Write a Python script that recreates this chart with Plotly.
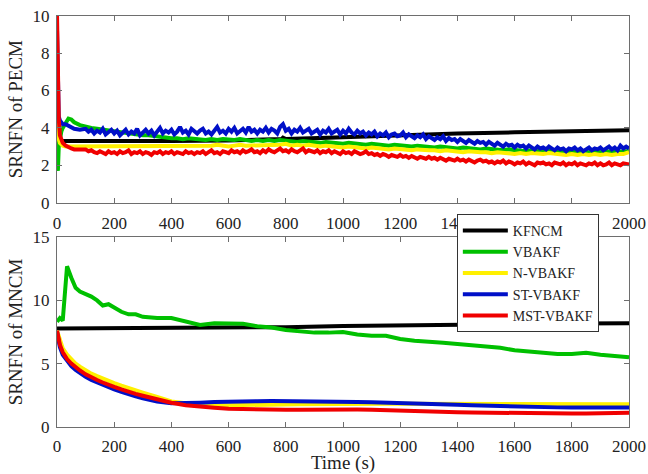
import plotly.graph_objects as go

series_names = ["KFNCM", "VBAKF", "N-VBAKF", "ST-VBAKF", "MST-VBAKF"]
colors = ["#000000", "#00C000", "#FFF000", "#0010C8", "#F00000"]

# ---------- Top panel: SRNFN of PECM ----------
t_early = [0, 3, 6, 10, 15, 20, 30, 40, 50, 60, 80]
t_top20 = t_early + list(range(100, 2001, 20))
t_top10 = t_early + list(range(100, 2001, 10))

kf_top_t = [0, 200, 400, 600, 785, 790, 800, 1000, 1200, 1400, 1600, 1800, 2000]
kf_top = [3.3, 3.28, 3.3, 3.33, 3.4, 3.48, 3.4, 3.5, 3.62, 3.7, 3.76, 3.82, 3.87]

vb_top = [6.5, 1.7, 3.0, 3.5, 3.8, 4.0, 4.3, 4.5, 4.45, 4.3, 4.15,
          4.05, 4.0, 3.95, 3.9, 3.85, 3.8, 3.75, 3.7, 3.7, 3.65,
          3.6, 3.6, 3.55, 3.5, 3.5, 3.45, 3.45, 3.4, 3.45, 3.4,
          3.4, 3.35, 3.4, 3.35, 3.4, 3.35, 3.35, 3.4, 3.35, 3.3,
          3.35, 3.3, 3.35, 3.3, 3.35, 3.3, 3.3, 3.25, 3.3, 3.25,
          3.25, 3.2, 3.25, 3.2, 3.2, 3.15, 3.2, 3.15, 3.15, 3.1,
          3.15, 3.1, 3.1, 3.05, 3.1, 3.05, 3.05, 3.0, 3.05, 3.0,
          3.0, 2.95, 3.0, 2.95, 2.95, 2.9, 2.95, 2.9, 2.9, 2.85,
          2.9, 2.85, 2.85, 2.8, 2.85, 2.8, 2.8, 2.75, 2.8, 2.75,
          2.8, 2.75, 2.75, 2.7, 2.75, 2.7, 2.75, 2.7, 2.7, 2.75,
          2.7, 2.75, 2.7, 2.7, 2.75, 2.75]

nvb_top = [5.0, 3.8, 3.4, 3.2, 3.1, 3.05, 3.0, 3.0, 3.0, 3.0, 3.05,
           3.05, 3.0, 3.05, 3.0, 3.05, 3.0, 3.0, 3.05, 3.0, 3.05,
           3.0, 3.05, 3.0, 3.05, 3.05, 3.0, 3.05, 3.0, 3.05, 3.0,
           3.05, 3.0, 3.05, 3.1, 3.05, 3.0, 3.05, 3.1, 3.05, 3.05,
           3.1, 3.05, 3.1, 3.05, 3.1, 3.15, 3.05, 3.1, 3.05, 3.1,
           3.05, 3.0, 3.05, 3.0, 3.0, 2.95, 3.0, 2.95, 2.95, 2.9,
           2.95, 2.9, 2.9, 2.85, 2.9, 2.85, 2.85, 2.8, 2.85, 2.8,
           2.8, 2.8, 2.75, 2.8, 2.75, 2.75, 2.7, 2.75, 2.7, 2.7,
           2.7, 2.65, 2.7, 2.65, 2.65, 2.6, 2.65, 2.6, 2.65, 2.6,
           2.6, 2.65, 2.6, 2.6, 2.55, 2.6, 2.55, 2.6, 2.55, 2.6,
           2.55, 2.6, 2.55, 2.6, 2.6, 2.7]

st_top = [9.2, 6.0, 4.6, 4.4, 4.3, 4.2, 4.2, 4.1, 4.0, 3.95, 3.9,
          3.95, 3.8, 3.9, 3.7, 3.85, 3.75, 3.95, 3.65, 3.8, 3.9,
          3.7, 3.85, 3.6, 3.75, 3.9, 3.65, 3.8, 3.7, 3.95, 3.6,
          3.75, 3.9, 3.7, 3.85, 3.6, 3.8, 4.0, 3.7, 3.85, 3.75,
          3.9, 3.65, 3.8, 4.05, 3.75, 3.85, 3.65, 3.95, 3.8, 3.7,
          3.85, 3.95, 3.7, 3.8, 3.65, 3.9, 4.05, 3.75, 3.85, 3.7,
          3.95, 3.8, 4.0, 3.7, 3.85, 3.95, 3.75, 4.05, 3.8, 3.9,
          3.7, 3.9, 3.8, 4.0, 3.75, 3.95, 3.85, 3.7, 4.05, 4.2,
          3.85, 3.95, 3.7, 3.9, 3.8, 4.0, 3.75, 3.85, 3.95, 3.7,
          3.8, 3.9, 3.65, 3.85, 3.75, 3.95, 3.7, 3.8, 3.9, 3.65,
          3.85, 3.7, 3.95, 3.75, 3.65, 3.85, 3.7, 3.8, 3.6, 3.75,
          3.65, 3.8, 3.55, 3.7, 3.6, 3.75, 3.5, 3.65, 3.7, 3.55,
          3.6, 3.75, 3.5, 3.65, 3.55, 3.45, 3.6, 3.5, 3.65, 3.4,
          3.55, 3.45, 3.35, 3.5, 3.4, 3.55, 3.3, 3.45, 3.35, 3.4,
          3.25, 3.4, 3.3, 3.2, 3.35, 3.25, 3.15, 3.3, 3.2, 3.25,
          3.1, 3.25, 3.15, 3.05, 3.2, 3.1, 3.0, 3.15, 3.05, 3.1,
          2.95, 3.1, 3.0, 3.05, 2.9, 3.05, 2.95, 2.85, 3.0, 2.9,
          2.95, 2.85, 3.0, 2.9, 2.8, 2.95, 2.85, 2.9, 2.75, 2.9,
          2.85, 2.95, 2.8, 2.9, 2.75, 2.85, 2.95, 2.8, 2.9, 2.85,
          2.95, 2.8, 2.9, 3.0, 2.85, 2.95, 2.8, 3.05, 2.9, 3.0,
          2.9]

mst_top = [10.0, 6.5, 4.5, 3.6, 3.3, 3.2, 3.05, 2.95, 2.9, 2.85, 2.85,
           2.85, 2.75, 2.8, 2.7, 2.65, 2.75, 2.7, 2.6, 2.75, 2.65,
           2.7, 2.6, 2.75, 2.65, 2.7, 2.8, 2.6, 2.7, 2.65, 2.75,
           2.6, 2.7, 2.65, 2.55, 2.7, 2.65, 2.75, 2.6, 2.7, 2.65,
           2.75, 2.6, 2.7, 2.65, 2.6, 2.75, 2.65, 2.7, 2.6, 2.7,
           2.65, 2.75, 2.6, 2.7, 2.8, 2.65, 2.7, 2.6, 2.75, 2.7,
           2.65, 2.8, 2.7, 2.75, 2.65, 2.8, 2.7, 2.75, 2.85, 2.7,
           2.75, 2.65, 2.8, 2.7, 2.85, 2.75, 2.7, 2.8, 2.9, 2.75,
           2.8, 2.7, 2.85, 2.75, 2.7, 2.8, 2.9, 2.7, 2.8, 2.75,
           2.7, 2.8, 2.65, 2.75, 2.7, 2.8, 2.65, 2.75, 2.7, 2.6,
           2.75, 2.65, 2.7, 2.6, 2.75, 2.7, 2.6, 2.65, 2.75, 2.6,
           2.65, 2.55, 2.6, 2.5, 2.6, 2.55, 2.45, 2.55, 2.5, 2.45,
           2.55, 2.45, 2.5, 2.4, 2.5, 2.45, 2.35, 2.45, 2.4, 2.35,
           2.45, 2.35, 2.4, 2.3, 2.4, 2.35, 2.25, 2.35, 2.3, 2.25,
           2.35, 2.25, 2.3, 2.2, 2.3, 2.25, 2.15, 2.25, 2.3, 2.2,
           2.25, 2.15, 2.2, 2.1, 2.2, 2.15, 2.25, 2.1, 2.2, 2.15,
           2.05, 2.15, 2.1, 2.2, 2.05, 2.15, 2.1, 2.0, 2.15, 2.1,
           2.15, 2.05, 2.1, 2.0, 2.15, 2.1, 2.05, 2.15, 2.0, 2.1,
           2.05, 2.15, 2.0, 2.1, 2.05, 2.0, 2.1, 2.05, 2.15, 2.0,
           2.1, 2.0, 2.05, 2.15, 2.0, 2.1, 2.05, 2.0, 2.1, 2.05,
           2.05]

# ---------- Bottom panel: SRNFN of MNCM ----------
t_bot = [0, 10, 20, 35, 50, 65, 80, 100, 120, 140, 160, 180, 200, 225, 250, 275, 300,
         350, 400, 450, 500, 550, 600, 650, 700, 750, 800, 850, 900, 950, 1000,
         1050, 1100, 1150, 1200, 1250, 1300, 1350, 1400, 1450, 1500, 1550, 1600,
         1650, 1700, 1750, 1800, 1850, 1900, 1950, 2000]

kf_bot_t = [0, 400, 600, 800, 1000, 1200, 1400, 1600, 1800, 2000]
kf_bot = [7.78, 7.8, 7.82, 7.88, 7.97, 8.04, 8.1, 8.14, 8.17, 8.19]

vb_bot = [8.3, 8.6, 8.4, 12.7, 11.8, 11.0, 10.7, 10.5, 10.3, 10.0, 9.6, 9.7, 9.4, 9.1, 8.9,
          8.9, 8.7, 8.6, 8.6, 8.3, 8.05, 8.2, 8.15, 8.15, 7.95, 7.85, 7.65, 7.55, 7.45, 7.45,
          7.5, 7.3, 7.2, 7.2, 6.95, 6.8, 6.75, 6.65, 6.55, 6.45, 6.35, 6.25, 6.05, 5.95,
          5.85, 5.75, 5.75, 5.85, 5.7, 5.6, 5.5]

nvb_bot = [7.6, 6.8, 6.2, 5.7, 5.3, 5.0, 4.75, 4.45, 4.2, 4.0, 3.8, 3.6, 3.45, 3.25, 3.05,
           2.85, 2.7, 2.35, 2.0, 1.85, 1.77, 1.72, 1.7, 1.7, 1.72, 1.74, 1.76, 1.78, 1.8, 1.8,
           1.82, 1.82, 1.82, 1.82, 1.82, 1.82, 1.82, 1.82, 1.81, 1.8, 1.8, 1.79, 1.78, 1.78,
           1.78, 1.78, 1.78, 1.78, 1.78, 1.78, 1.78]

st_bot = [7.5, 6.3, 5.7, 5.2, 4.8, 4.5, 4.25, 3.95, 3.7, 3.5, 3.3, 3.1, 2.95, 2.75, 2.55,
          2.4, 2.25, 2.0, 1.85, 1.85, 1.9, 1.95, 1.95, 2.0, 2.02, 2.03, 2.03, 2.02, 2.0, 2.0,
          1.98, 1.96, 1.94, 1.92, 1.9, 1.86, 1.82, 1.78, 1.74, 1.7, 1.66, 1.62, 1.58, 1.56,
          1.54, 1.53, 1.52, 1.52, 1.52, 1.52, 1.52]

mst_bot = [7.6, 6.5, 5.9, 5.35, 5.0, 4.7, 4.45, 4.15, 3.9, 3.7, 3.5, 3.3, 3.15, 2.95, 2.75,
           2.6, 2.45, 2.15, 1.9, 1.7, 1.58, 1.5, 1.42, 1.38, 1.36, 1.35, 1.34, 1.34, 1.36, 1.37,
           1.38, 1.36, 1.34, 1.32, 1.3, 1.26, 1.22, 1.18, 1.15, 1.12, 1.1, 1.08, 1.06, 1.05,
           1.05, 1.05, 1.05, 1.05, 1.06, 1.08, 1.1]

x_ticks = list(range(0, 2001, 200))
top_y_ticks = [0, 2, 4, 6, 8, 10]
bot_y_ticks = [0, 5, 10, 15]

FONT = "Liberation Serif"
LW = 4

fig = go.Figure()

top_data = [(kf_top_t, kf_top), (t_top20, vb_top), (t_top20, nvb_top),
            (t_top10, st_top), (t_top10, mst_top)]
bot_data = [(kf_bot_t, kf_bot), (t_bot, vb_bot), (t_bot, nvb_bot), (t_bot, st_bot), (t_bot, mst_bot)]

for i, (tx, ty) in enumerate(top_data):
    fig.add_trace(go.Scatter(x=tx, y=ty, mode="lines", name=series_names[i],
                             line=dict(color=colors[i], width=LW), showlegend=False,
                             xaxis="x", yaxis="y"))
for i, (tx, ty) in enumerate(bot_data):
    fig.add_trace(go.Scatter(x=tx, y=ty, mode="lines", name=series_names[i],
                             line=dict(color=colors[i], width=LW), showlegend=True,
                             xaxis="x2", yaxis="y2"))

axis_common = dict(showgrid=False, zeroline=False, showline=True, linecolor="#6e6e6e",
                   linewidth=1, mirror="allticks", ticks="inside", ticklen=5,
                   tickcolor="#6e6e6e", automargin=False,
                   tickfont=dict(family=FONT, size=17, color="#222"))

title_font = dict(family=FONT, size=19, color="#222")

fig.update_layout(
    width=648, height=474,
    margin=dict(l=0, r=0, t=0, b=0),
    paper_bgcolor="white", plot_bgcolor="white",
    font=dict(family=FONT, color="#222"),
    xaxis=dict(domain=[0.088, 0.9707], range=[0, 2000], tickvals=x_ticks,
               anchor="y", ticklabelstandoff=5, **axis_common),
    yaxis=dict(domain=[0.5724, 0.9669], range=[0, 10], tickvals=top_y_ticks,
               anchor="x", ticklabelstandoff=3,
               title=dict(text="SRNFN of PECM", font=title_font, standoff=4),
               **axis_common),
    xaxis2=dict(domain=[0.088, 0.9707], range=[0, 2000], tickvals=x_ticks,
                anchor="y2", ticklabelstandoff=4,
                title=dict(text="Time (s)", font=title_font, standoff=4),
                **axis_common),
    yaxis2=dict(domain=[0.0998, 0.4994], range=[0, 15], tickvals=bot_y_ticks,
                anchor="x2", ticklabelstandoff=3,
                title=dict(text="SRNFN of MNCM", font=title_font, standoff=4),
                **axis_common),
    legend=dict(x=0.705, y=0.5485, xanchor="left", yanchor="top",
                bgcolor="white", bordercolor="#333", borderwidth=1,
                font=dict(family=FONT, size=14, color="#222"),
                tracegroupgap=0, itemwidth=45),
)

fig.write_html("out.html")
